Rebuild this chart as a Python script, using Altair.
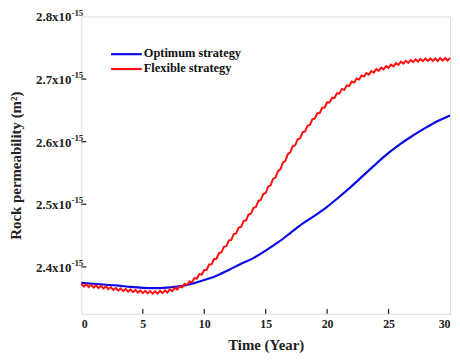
import altair as alt
import pandas as pd

# ---- data ----
blue_time = [0, 1, 2, 3, 4, 5, 6, 7, 8, 9, 10, 11, 12, 13, 14, 15, 16, 17, 18, 19,
             20, 21, 22, 23, 24, 25, 26, 27, 28, 29, 30]
blue_vals = [2.3745, 2.373, 2.3715, 2.370, 2.368, 2.3665, 2.366, 2.367, 2.369, 2.373,
             2.379, 2.386, 2.395, 2.405, 2.414, 2.426, 2.439, 2.454, 2.469, 2.482,
             2.496, 2.512, 2.529, 2.547, 2.565, 2.582, 2.597, 2.610, 2.622, 2.633, 2.642]

red_time = [round(i * 0.2, 1) for i in range(151)]
red_vals = [
    2.373, 2.3686, 2.3722, 2.3678, 2.3714,
    2.367, 2.3706, 2.3662, 2.3698, 2.3654,
    2.369, 2.3644, 2.3678, 2.3632, 2.3666,
    2.362, 2.3656, 2.3612, 2.3648, 2.3604,
    2.364, 2.3596, 2.3632, 2.3588, 2.3624,
    2.358, 2.3618, 2.3576, 2.3614, 2.3572,
    2.361, 2.3574, 2.3618, 2.3582, 2.3626,
    2.359, 2.3642, 2.3614, 2.3666, 2.3638,
    2.369, 2.367, 2.373, 2.371, 2.377,
    2.375, 2.3822, 2.3814, 2.3886, 2.3878,
    2.395, 2.3954, 2.4038, 2.4042, 2.4126,
    2.413, 2.422, 2.423, 2.432, 2.433,
    2.442, 2.4432, 2.4524, 2.4536, 2.4628,
    2.464, 2.4732, 2.4744, 2.4836, 2.4848,
    2.494, 2.4956, 2.5052, 2.5068, 2.5164,
    2.518, 2.5282, 2.5304, 2.5406, 2.5428,
    2.553, 2.5558, 2.5666, 2.5694, 2.5802,
    2.583, 2.5926, 2.5942, 2.6038, 2.6054,
    2.615, 2.6162, 2.6254, 2.6266, 2.6358,
    2.637, 2.6454, 2.6458, 2.6542, 2.6546,
    2.663, 2.6626, 2.6702, 2.6698, 2.6774,
    2.677, 2.684, 2.683, 2.690, 2.689,
    2.696, 2.6944, 2.7008, 2.6992, 2.7056,
    2.704, 2.7096, 2.7072, 2.7128, 2.7104,
    2.716, 2.7132, 2.7184, 2.7156, 2.7208,
    2.718, 2.7232, 2.7204, 2.7256, 2.7228,
    2.728, 2.7246, 2.7292, 2.7258, 2.7304,
    2.727, 2.7314, 2.7278, 2.7322, 2.7286,
    2.733, 2.729, 2.733, 2.729, 2.733,
    2.729, 2.7334, 2.7296, 2.7338, 2.7298, 2.734,
]

series_names = ["Optimum strategy", "Flexible strategy"]
x_ticks = [5, 10, 15, 20, 25]
y_ticks = [2.4, 2.5, 2.6, 2.7]
y_label_vals = [2.4, 2.5, 2.6, 2.7, 2.8]
y_label_base = ["2.4x10", "2.5x10", "2.6x10", "2.7x10", "2.8x10"]
y_label_exp = "-15"

FONT = "Liberation Serif"
BLUE = "#0a0ae6"
RED = "#ff1010"
AX = "#2a2a2a"

W, H = 372, 300
xscale = alt.Scale(domain=[0, 30], nice=False, zero=False)
yscale = alt.Scale(domain=[2.325, 2.8], nice=False, zero=False)

blue_df = pd.DataFrame({"t": blue_time, "v": blue_vals})
red_df = pd.DataFrame({"t": red_time, "v": red_vals})

x_axis = alt.Axis(values=[0, 5, 10, 15, 20, 25, 30], domain=False, ticks=False, grid=False,
                  labelFont=FONT, labelFontWeight="bold", labelFontSize=12, labelColor="#222",
                  labelPadding=5, title="Time (Year)", titleFont=FONT, titleFontWeight="bold",
                  titleFontSize=15, titleColor="#222", titlePadding=8)
y_axis = alt.Axis(labels=False, domain=False, ticks=False, grid=False,
                  title="Rock permeability (m²)", titleFont=FONT, titleFontWeight="bold",
                  titleFontSize=15, titleColor="#222", titlePadding=58)

blue_line = alt.Chart(blue_df).mark_line(color=BLUE, strokeWidth=2.2, interpolate="monotone").encode(
    x=alt.X("t:Q", scale=xscale, axis=x_axis),
    y=alt.Y("v:Q", scale=yscale, axis=y_axis),
)
red_line = alt.Chart(red_df).mark_line(color=RED, strokeWidth=2.0).encode(
    x=alt.X("t:Q", scale=xscale),
    y=alt.Y("v:Q", scale=yscale),
)

xt = alt.Chart(pd.DataFrame({"t": x_ticks})).mark_rule(color=AX, strokeWidth=1.3).encode(
    x=alt.X("t:Q", scale=xscale), y=alt.value(H), y2=alt.value(H - 5))
yt = alt.Chart(pd.DataFrame({"v": y_ticks})).mark_rule(color=AX, strokeWidth=1.3).encode(
    y=alt.Y("v:Q", scale=yscale), x=alt.value(0), x2=alt.value(5))

ylab_df = pd.DataFrame({"v": y_label_vals, "base": y_label_base, "exp": [y_label_exp] * 5})
ylab_base = alt.Chart(ylab_df).mark_text(font=FONT, fontWeight="bold", fontSize=13, align="right",
                                         baseline="middle", color="#222", dy=1).encode(
    y=alt.Y("v:Q", scale=yscale), x=alt.value(-10), text="base:N")
ylab_exp = alt.Chart(ylab_df).mark_text(font=FONT, fontWeight="bold", fontSize=9, align="left",
                                        baseline="middle", color="#222", dy=-4).encode(
    y=alt.Y("v:Q", scale=yscale), x=alt.value(-10), text="exp:N")

leg_df1 = pd.DataFrame({"label": [series_names[0]]})
leg_df2 = pd.DataFrame({"label": [series_names[1]]})
leg_r1 = alt.Chart(leg_df1).mark_rule(color=BLUE, strokeWidth=2.2).encode(
    x=alt.value(30), x2=alt.value(61), y=alt.value(38))
leg_t1 = alt.Chart(leg_df1).mark_text(font=FONT, fontWeight="bold", fontSize=12.5, align="left",
                                      baseline="middle", color="#111").encode(
    x=alt.value(63), y=alt.value(37), text="label:N")
leg_r2 = alt.Chart(leg_df2).mark_rule(color=RED, strokeWidth=2.2).encode(
    x=alt.value(30), x2=alt.value(61), y=alt.value(53))
leg_t2 = alt.Chart(leg_df2).mark_text(font=FONT, fontWeight="bold", fontSize=12.5, align="left",
                                      baseline="middle", color="#111").encode(
    x=alt.value(63), y=alt.value(52), text="label:N")

chart = alt.layer(
    blue_line, red_line, xt, yt, ylab_base, ylab_exp, leg_r1, leg_t1, leg_r2, leg_t2
).properties(
    width=W, height=H,
    autosize=alt.AutoSizeParams(type="none"),
    padding={"left": 74, "top": 7, "right": 2, "bottom": 45},
).configure_view(stroke=AX, strokeWidth=1.6).configure(background="white")

chart.save("out.html", embed_options={"renderer": "svg", "actions": False})
